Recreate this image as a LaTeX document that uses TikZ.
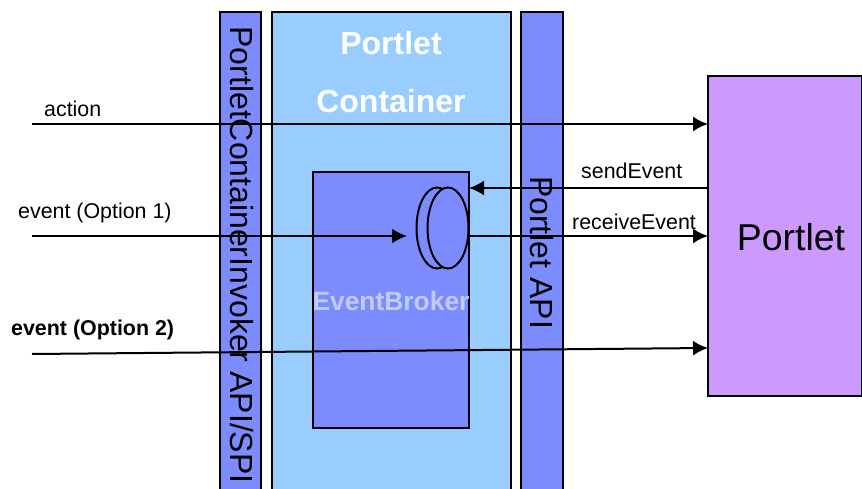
\documentclass[tikz,border=0pt]{standalone}
\usepackage{fontspec}
\setmainfont{Liberation Sans}
\usetikzlibrary{arrows.meta,shapes.geometric}
\definecolor{lblue}{HTML}{99CCFF}
\definecolor{pblue}{HTML}{7C8CFF}
\definecolor{purp}{HTML}{CC99FF}
\definecolor{ebtext}{HTML}{C0CCFF}
\tikzset{
 x=1pt,y=-1pt,
 box/.style={draw=black,line width=2pt,inner sep=0pt,anchor=north west},
 disc/.style={draw=black,line width=2pt,fill=pblue,ellipse,minimum width=41pt,minimum height=81pt,inner sep=0pt},
 lab/.style={font=\fontsize{21.4}{24}\selectfont,text=black,inner sep=0pt},
 vert/.style={font=\fontsize{32}{34}\selectfont,text=black,inner sep=0pt,rotate=-90},
 conn/.style={draw=black,line width=2pt},
 tip/.style={-{Latex[length=15pt,width=15pt]}},
 title/.style={font=\bfseries\fontsize{32}{34}\selectfont,text=white,inner sep=0pt},
}
\begin{document}
\begin{tikzpicture}
\useasboundingbox (0,0) rectangle (862,489);
\fill[white] (0,0) rectangle (862,489);
\begin{scope}
\clip (0,0) rectangle (862,489);
\node[box,fill=pblue,minimum width=41pt,minimum height=500pt] (spi) at (219,11) {};
\node[box,fill=lblue,minimum width=239pt,minimum height=500pt] (cont) at (271,11) {};
\node[box,fill=pblue,minimum width=42pt,minimum height=500pt] (api) at (520,11) {};
\end{scope}
\node[box,fill=pblue,minimum width=156pt,minimum height=256pt] (broker) at (312,171) {};
\node[box,fill=purp,minimum width=154pt,minimum height=320pt] (portlet) at (707,75) {};
\node[disc] (disc1) at (437,228) {};
\node[disc] (disc2) at (448,228) {};
\node[title] (t1) at (391,43) {Portlet};
\node[title] (t2) at (391,101) {Container};
\node[font=\bfseries\fontsize{26.4}{28}\selectfont,text=ebtext,inner sep=0pt] (eb) at (391,301) {EventBroker};
\node[font=\fontsize{37.4}{40}\selectfont,inner sep=0pt] (pl) at (791,237) {Portlet};
\node[vert] (v1) at (241.5,255) {PortletContainerInvoker API/SPI};
\node[vert] (v2) at (541.5,252.5) {Portlet API};
\coordinate (a0) at (32,124);
\coordinate (e0) at (32,236);
\coordinate (e1) at (407,236);
\coordinate (o0) at (32,354);
\coordinate (o1) at (708,348);
\coordinate (s0) at (707,188);
\coordinate (s1) at (469,188);
\coordinate (r0) at (469,236);
\coordinate (r1) at (708,236);
\draw[conn,tip] (a0) -- (708,124);
\draw[conn,tip] (e0) -- (e1);
\draw[conn,tip] (r0) -- (r1);
\draw[conn,tip] (o0) -- (o1);
\draw[conn,tip] (s0) -- (s1);
\node[lab,anchor=base west] (la) at (44,117) {action};
\node[lab,anchor=base west] (le) at (18,218.5) {event (Option 1)};
\node[lab,anchor=base west,font=\bfseries\fontsize{21.4}{24}\selectfont] (lo) at (11,335.5) {event (Option 2)};
\node[lab,anchor=base west] (ls) at (581,179) {sendEvent};
\node[lab,anchor=base west] (lr) at (572,229.5) {receiveEvent};
\end{tikzpicture}
\end{document}
